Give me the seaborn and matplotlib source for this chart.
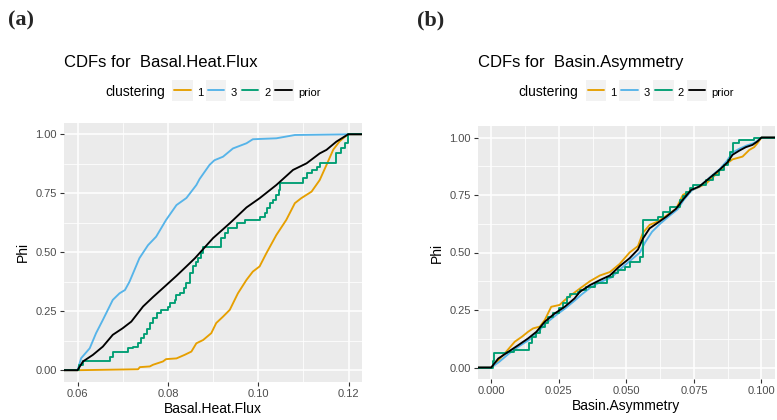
import matplotlib
matplotlib.use("Agg")
import matplotlib.pyplot as plt
import seaborn as sns
from matplotlib.patches import Rectangle
from matplotlib.lines import Line2D
from matplotlib.ticker import MultipleLocator, FormatStrFormatter

# ---------------- data ----------------
labels = ["1", "3", "2", "prior"]
colors = {"1": "#E69F00", "3": "#56B4E9", "2": "#009E73", "prior": "#000000"}

# Panel (a): Basal.Heat.Flux
heat_x_1 = [0.0600, 0.0734, 0.0738, 0.0760, 0.0767, 0.0789, 0.0796, 0.0819, 0.0837, 0.0852,
            0.0863, 0.0878, 0.0896, 0.0907, 0.0922, 0.0937, 0.0955, 0.0974, 0.0988, 0.1003,
            0.1018, 0.1040, 0.1062, 0.1081, 0.1095, 0.1118, 0.1136, 0.1151, 0.1166, 0.1180,
            0.1191, 0.1199]
heat_phi_1 = [0.000, 0.004, 0.013, 0.016, 0.023, 0.037, 0.047, 0.050, 0.065, 0.079,
              0.114, 0.128, 0.157, 0.200, 0.227, 0.256, 0.326, 0.383, 0.418, 0.440,
              0.496, 0.573, 0.637, 0.708, 0.729, 0.757, 0.806, 0.870, 0.935, 0.970,
              0.988, 1.000]

heat_x_3 = [0.0600, 0.0608, 0.0627, 0.0641, 0.0656, 0.0678, 0.0693, 0.0705, 0.0715, 0.0737,
            0.0756, 0.0774, 0.0796, 0.0819, 0.0841, 0.0863, 0.0870, 0.0892, 0.0903, 0.0922,
            0.0944, 0.0974, 0.0988, 0.1040, 0.1081, 0.1199]
heat_phi_3 = [0.000, 0.051, 0.093, 0.157, 0.213, 0.298, 0.326, 0.340, 0.375, 0.475,
              0.530, 0.566, 0.637, 0.700, 0.730, 0.785, 0.810, 0.870, 0.890, 0.905,
              0.940, 0.962, 0.979, 0.983, 0.997, 1.000]

heat_x_2 = [0.0600, 0.0604, 0.0612, 0.0671, 0.0678, 0.0711, 0.0723, 0.0734, 0.0741, 0.0748,
            0.0754, 0.0760, 0.0767, 0.0776, 0.0785, 0.0800, 0.0804, 0.0815, 0.0819, 0.0827,
            0.0835, 0.0841, 0.0848, 0.0855, 0.0862, 0.0867, 0.0874, 0.0878, 0.0918, 0.0926,
            0.0933, 0.0952, 0.0970, 0.1003, 0.1014, 0.1019, 0.1025, 0.1033, 0.1040, 0.1045,
            0.1049, 0.1099, 0.1107, 0.1118, 0.1129, 0.1136, 0.1173, 0.1184, 0.1191, 0.1199]
heat_phi_2 = [0.000, 0.022, 0.039, 0.055, 0.079, 0.093, 0.100, 0.114, 0.136, 0.152,
              0.174, 0.199, 0.220, 0.241, 0.256, 0.270, 0.286, 0.298, 0.319, 0.329,
              0.347, 0.368, 0.410, 0.440, 0.460, 0.475, 0.496, 0.524, 0.559, 0.580,
              0.601, 0.623, 0.637, 0.651, 0.665, 0.686, 0.708, 0.722, 0.743, 0.764,
              0.792, 0.814, 0.835, 0.849, 0.863, 0.880, 0.919, 0.941, 0.962, 1.000]

heat_x_p = [0.0600, 0.0612, 0.0634, 0.0656, 0.0678, 0.0700, 0.0719, 0.0745, 0.0767, 0.0796,
            0.0819, 0.0841, 0.0860, 0.0900, 0.0937, 0.0974, 0.1003, 0.1040, 0.1077, 0.1107,
            0.1136, 0.1151, 0.1173, 0.1199]
heat_phi_p = [0.000, 0.037, 0.065, 0.100, 0.150, 0.178, 0.206, 0.270, 0.310, 0.360,
              0.400, 0.440, 0.475, 0.560, 0.623, 0.690, 0.729, 0.785, 0.849, 0.877,
              0.919, 0.934, 0.969, 1.000]

# Panel (b): Basin.Asymmetry
asym_x_1 = [0.0000, 0.0030, 0.0060, 0.0087, 0.0115, 0.0136, 0.0155, 0.0180, 0.0198, 0.0222,
            0.0253, 0.0272, 0.0296, 0.0330, 0.0365, 0.0402, 0.0439, 0.0475, 0.0512, 0.0543,
            0.0561, 0.0586, 0.0617, 0.0648, 0.0684, 0.0709, 0.0740, 0.0770, 0.0795, 0.0832,
            0.0869, 0.0893, 0.0930, 0.0955, 0.0973, 0.0985, 0.1000]
asym_phi_1 = [0.000, 0.035, 0.075, 0.112, 0.135, 0.155, 0.170, 0.178, 0.206, 0.264,
              0.272, 0.293, 0.315, 0.345, 0.375, 0.400, 0.415, 0.450, 0.500, 0.528,
              0.585, 0.620, 0.635, 0.660, 0.690, 0.750, 0.770, 0.785, 0.800, 0.840,
              0.885, 0.905, 0.917, 0.946, 0.958, 0.975, 1.000]

asym_x_3 = [0.0000, 0.0030, 0.0065, 0.0100, 0.0140, 0.0170, 0.0200, 0.0240, 0.0275, 0.0310,
            0.0335, 0.0370, 0.0405, 0.0445, 0.0480, 0.0515, 0.0550, 0.0570, 0.0595, 0.0625,
            0.0655, 0.0690, 0.0712, 0.0742, 0.0772, 0.0808, 0.0845, 0.0872, 0.0893, 0.0920,
            0.0945, 0.0970, 0.0988, 0.1000]
asym_phi_3 = [0.000, 0.025, 0.060, 0.090, 0.120, 0.150, 0.190, 0.228, 0.258, 0.292,
              0.318, 0.350, 0.372, 0.392, 0.430, 0.465, 0.500, 0.545, 0.590, 0.625,
              0.655, 0.688, 0.728, 0.770, 0.788, 0.826, 0.862, 0.898, 0.935, 0.952,
              0.965, 0.975, 0.988, 1.000]

asym_x_2 = [0.0000, 0.0005, 0.0012, 0.0060, 0.0085, 0.0140, 0.0150, 0.0165, 0.0180, 0.0200,
            0.0210, 0.0230, 0.0250, 0.0265, 0.0280, 0.0290, 0.0320, 0.0330, 0.0350, 0.0383,
            0.0430, 0.0451, 0.0470, 0.0494, 0.0512, 0.0549, 0.0563, 0.0617, 0.0635, 0.0660,
            0.0697, 0.0710, 0.0721, 0.0735, 0.0746, 0.0795, 0.0819, 0.0844, 0.0863, 0.0875,
            0.0883, 0.0893, 0.0918, 0.0973, 0.0998]
asym_phi_2 = [0.000, 0.030, 0.061, 0.068, 0.075, 0.105, 0.133, 0.150, 0.177, 0.195,
              0.220, 0.235, 0.257, 0.280, 0.305, 0.319, 0.330, 0.335, 0.348, 0.366,
              0.395, 0.409, 0.425, 0.438, 0.460, 0.482, 0.641, 0.656, 0.678, 0.700,
              0.729, 0.745, 0.765, 0.780, 0.794, 0.816, 0.838, 0.859, 0.881, 0.903,
              0.939, 0.976, 0.987, 0.997, 1.000]

asym_x_p = [0.0000, 0.0026, 0.0063, 0.0100, 0.0136, 0.0167, 0.0198, 0.0235, 0.0272, 0.0308,
            0.0328, 0.0365, 0.0402, 0.0439, 0.0475, 0.0512, 0.0543, 0.0561, 0.0586, 0.0617,
            0.0648, 0.0684, 0.0709, 0.0740, 0.0770, 0.0807, 0.0844, 0.0875, 0.0893, 0.0918,
            0.0942, 0.0967, 0.0985, 0.1000]
asym_phi_p = [0.000, 0.039, 0.068, 0.097, 0.126, 0.155, 0.199, 0.235, 0.264, 0.300,
              0.329, 0.358, 0.380, 0.400, 0.440, 0.475, 0.513, 0.560, 0.605, 0.630,
              0.656, 0.690, 0.729, 0.772, 0.787, 0.823, 0.859, 0.893, 0.925, 0.943,
              0.958, 0.968, 0.983, 1.000]

heat_series = {"1": (heat_x_1, heat_phi_1), "3": (heat_x_3, heat_phi_3),
               "2": (heat_x_2, heat_phi_2), "prior": (heat_x_p, heat_phi_p)}
asym_series = {"1": (asym_x_1, asym_phi_1), "3": (asym_x_3, asym_phi_3),
               "2": (asym_x_2, asym_phi_2), "prior": (asym_x_p, asym_phi_p)}

# ---------------- style ----------------
sns.set_theme(style="darkgrid", rc={
    "axes.facecolor": "#EBEBEB",
    "grid.color": "white",
    "axes.edgecolor": "#EBEBEB",
    "xtick.color": "#333333",
    "ytick.color": "#333333",
})
plt.rcParams["font.family"] = ["Liberation Sans", "DejaVu Sans"]

W, H = 777, 420
fig = plt.figure(figsize=(W / 100, H / 100), dpi=100)
fig.patch.set_facecolor("white")


def fx(px):
    return px / W


def fy(py):
    return 1 - py / H


LW = 1.35


def draw_panel(rect, series, xmaj, xmin, xfmt, xlabel, title, tag, tag_x):
    left, top, right, bottom = rect
    ax = fig.add_axes([fx(left), fy(bottom), fx(right) - fx(left), fy(top) - fy(bottom)])
    all_x = [v for k in labels for v in series[k][0]]
    lo, hi = min(all_x), max(all_x)
    pad = 0.05 * (hi - lo)
    for k in labels:
        xs, ys = series[k]
        xs = [lo - pad] + list(xs) + [hi + pad]
        ys = [0.0] + list(ys) + [1.0]
        sns.lineplot(x=xs, y=ys, ax=ax, color=colors[k], lw=LW, sort=False,
                     estimator=None, drawstyle="steps-post" if k == "2" else "default")
    ax.set_xlim(lo - pad, hi + pad)
    ax.set_ylim(-0.05, 1.05)
    ax.xaxis.set_major_locator(MultipleLocator(xmaj))
    ax.xaxis.set_minor_locator(MultipleLocator(xmin))
    ax.xaxis.set_major_formatter(FormatStrFormatter(xfmt))
    ax.yaxis.set_major_locator(MultipleLocator(0.25))
    ax.yaxis.set_minor_locator(MultipleLocator(0.125))
    ax.yaxis.set_major_formatter(FormatStrFormatter("%.2f"))
    ax.grid(which="major", color="white", lw=1.1)
    ax.grid(which="minor", color="white", lw=0.55)
    for s in ax.spines.values():
        s.set_visible(False)
    ax.tick_params(which="major", length=3, width=0.8, pad=2, labelsize=8,
                   labelcolor="#4D4D4D", color="#333333", bottom=True, left=True)
    ax.tick_params(which="minor", length=0)
    ax.set_xlabel(xlabel, fontsize=10, color="black", labelpad=2)
    ax.set_ylabel("Phi", fontsize=10, color="black", labelpad=4)
    ax.set_axisbelow(True)

    # title and tag
    fig.text(fx(left), fy(67), title, fontsize=12, color="black", ha="left", va="baseline")
    fig.text(fx(tag_x), fy(25), tag, fontsize=16, fontweight="bold",
             family=["Liberation Serif", "DejaVu Serif"], ha="left", va="baseline")

    # legend (manual, ggplot-like, centred above the panel)
    r = fig.canvas.get_renderer()
    t_title = fig.text(0, 0, "clustering", fontsize=10, color="black")
    w_title = t_title.get_window_extent(r).width
    t_title.remove()
    lab_w = []
    for k in labels:
        t = fig.text(0, 0, k, fontsize=8)
        lab_w.append(t.get_window_extent(r).width)
        t.remove()
    key = 20.5
    total = w_title + 7 + sum(key + 4 + w for w in lab_w) + 3 * 3
    cx = (left + right) / 2
    x = cx - total / 2
    base = 96
    fig.text(fx(x), fy(base), "clustering", fontsize=10, color="black", ha="left", va="baseline")
    x += w_title + 7
    for k, w in zip(labels, lab_w):
        fig.patches.append(Rectangle((fx(x), fy(100.5)), fx(key), key / H,
                                     transform=fig.transFigure, facecolor="#F2F2F2",
                                     edgecolor="none"))
        fig.lines.append(Line2D([fx(x + 2), fx(x + key - 2)], [fy(90.3), fy(90.3)],
                                transform=fig.transFigure, color=colors[k], lw=LW))
        fig.text(fx(x + key + 4), fy(base), k, fontsize=8, color="black",
                 ha="left", va="baseline")
        x += key + 4 + w + 3
    return ax


draw_panel((64, 122.5, 361.7, 382), heat_series, 0.02, 0.01, "%.2f",
           "Basal.Heat.Flux", "CDFs for  Basal.Heat.Flux", "(a)", 8)
draw_panel((477.7, 126, 775, 379), asym_series, 0.025, 0.0125, "%.3f",
           "Basin.Asymmetry", "CDFs for  Basin.Asymmetry", "(b)", 417)

fig.savefig("out.png", dpi=100)
